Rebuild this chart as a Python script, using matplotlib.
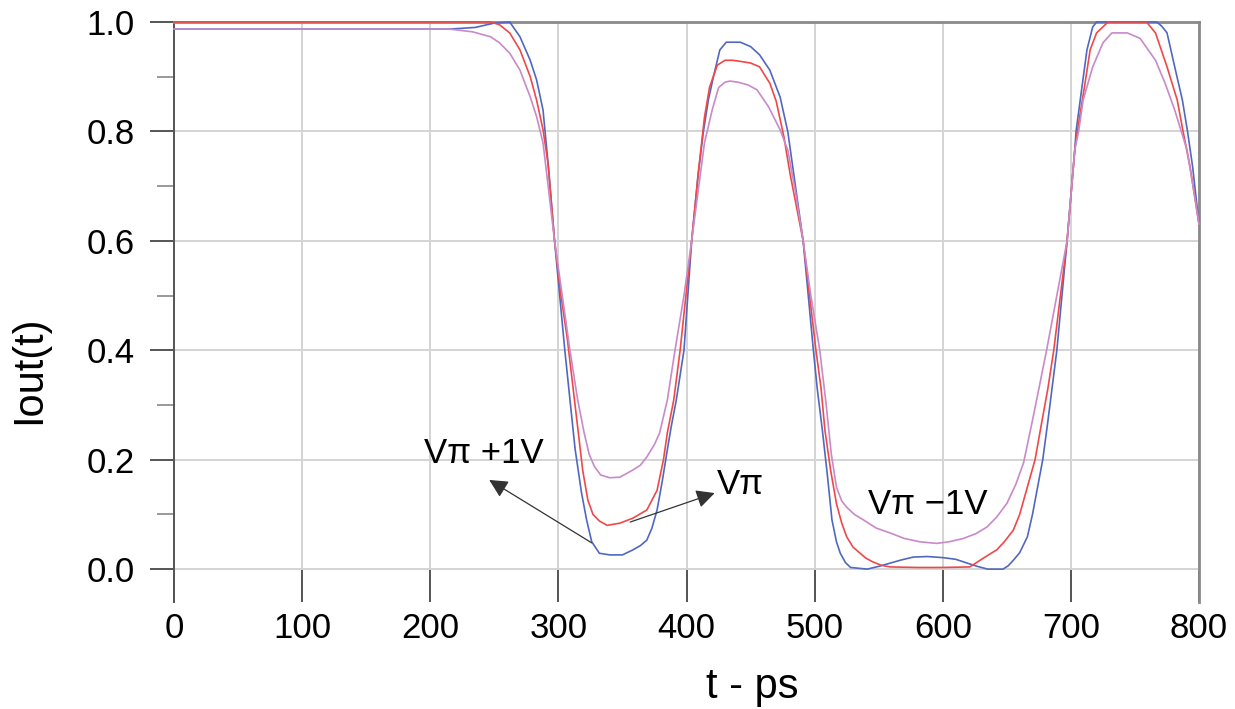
import matplotlib.pyplot as plt
from matplotlib.ticker import MultipleLocator

plt.rcParams['font.family'] = ['Liberation Sans', 'DejaVu Sans']

# ==== Data ====
# Vpi + 1V (blue)
t_blue = [0, 215, 235, 250, 262, 270, 278, 283, 288, 292, 297, 301, 305, 309, 313, 318, 322, 326,
          332, 340, 350, 358, 364, 369, 373, 377, 381, 385, 388, 392, 398, 404, 409, 413, 417, 421,
          426, 431, 436, 442, 450, 457, 465, 473, 479, 485, 491, 495, 499, 502, 506, 510, 513.5, 517,
          520, 524, 528, 541, 550, 559, 568, 577, 588, 600, 610, 619, 627, 635, 647, 651, 655, 660,
          666, 670, 674, 678, 682, 689, 697, 703, 704, 709, 712.5, 717, 720, 767, 771, 775, 781, 787,
          791, 795, 800]
i_blue = [0.987, 0.987, 0.99, 0.998, 1.0, 0.973, 0.93, 0.894, 0.839, 0.74, 0.60, 0.50, 0.40, 0.31,
          0.22, 0.14, 0.09, 0.05, 0.029, 0.026, 0.026, 0.035, 0.043, 0.053, 0.075, 0.108, 0.16,
          0.218, 0.26, 0.309, 0.40, 0.60, 0.72, 0.797, 0.857, 0.90, 0.949, 0.963, 0.963, 0.963, 0.955,
          0.94, 0.912, 0.863, 0.80, 0.70, 0.60, 0.50, 0.40, 0.33, 0.254, 0.17, 0.09, 0.05, 0.029,
          0.012, 0.003, 0.0, 0.005, 0.011, 0.017, 0.022, 0.023, 0.021, 0.018, 0.011, 0.005, 0.0, 0.0,
          0.006, 0.016, 0.03, 0.059, 0.10, 0.15, 0.20, 0.27, 0.40, 0.60, 0.766, 0.80, 0.888, 0.949,
          0.991, 1.0, 1.0, 0.992, 0.98, 0.918, 0.857, 0.80, 0.735, 0.63]

# Vpi (red)
t_red = [0, 247, 254, 262, 270, 278, 283, 288, 292, 297, 302, 307, 311, 315, 319, 323, 327, 332,
         338, 348, 358, 369, 377, 382, 385, 390, 395, 404, 409, 414, 418, 424, 430, 436, 442, 450,
         457, 465, 470, 476, 481, 486, 491, 496, 501, 505, 508, 512.5, 517, 521, 525, 530, 535.5, 540,
         545.6, 552, 559, 580, 600, 621, 629, 635, 642, 648, 655, 660, 666, 672, 677.5, 682, 686.6,
         697, 703, 705, 711, 715, 720, 729, 759, 766, 775, 783, 787.5, 793, 800]
i_red = [1.0, 1.0, 0.995, 0.98, 0.949, 0.90, 0.857, 0.803, 0.74, 0.60, 0.50, 0.42, 0.34, 0.26, 0.18,
         0.126, 0.10, 0.088, 0.080, 0.084, 0.093, 0.108, 0.144, 0.20, 0.249, 0.309, 0.40, 0.60, 0.72,
         0.826, 0.881, 0.921, 0.93, 0.93, 0.928, 0.925, 0.918, 0.888, 0.855, 0.79, 0.72, 0.66, 0.60,
         0.50, 0.40, 0.33, 0.254, 0.18, 0.12, 0.085, 0.059, 0.04, 0.029, 0.02, 0.013, 0.007, 0.004,
         0.003, 0.003, 0.004, 0.016, 0.025, 0.035, 0.05, 0.071, 0.10, 0.15, 0.20, 0.272, 0.33, 0.40,
         0.60, 0.766, 0.80, 0.888, 0.949, 0.98, 1.0, 1.0, 0.98, 0.918, 0.857, 0.80, 0.735, 0.63]

# Vpi - 1V (violet)
t_pink = [0, 215, 233, 247, 254, 262, 270, 278, 283, 288, 292, 297, 303, 309, 315, 320, 324, 328,
          333, 340, 348, 358, 364, 369, 375, 379, 385, 391, 398, 404, 409, 414, 420, 425, 430, 434,
          440, 448, 455, 464, 473, 479, 485, 491, 497, 504, 509, 513, 517, 521, 525, 531, 538, 548,
          559, 570, 582, 595, 605, 616, 626, 634.5, 642, 650, 657, 663, 670, 675, 681, 689, 697, 703,
          706, 709.5, 717, 725, 732, 744, 754, 766, 773.5, 781, 790.6, 797, 800]
i_pink = [0.987, 0.987, 0.982, 0.973, 0.962, 0.943, 0.912, 0.863, 0.827, 0.779, 0.70, 0.60, 0.50,
          0.40, 0.31, 0.25, 0.21, 0.188, 0.172, 0.167, 0.168, 0.181, 0.19, 0.205, 0.228, 0.249,
          0.309, 0.40, 0.50, 0.60, 0.69, 0.779, 0.839, 0.88, 0.89, 0.892, 0.89, 0.885, 0.876, 0.845,
          0.803, 0.766, 0.69, 0.60, 0.50, 0.40, 0.30, 0.21, 0.15, 0.125, 0.113, 0.10, 0.09, 0.075,
          0.066, 0.056, 0.05, 0.047, 0.05, 0.056, 0.065, 0.077, 0.095, 0.12, 0.155, 0.194, 0.272,
          0.33, 0.40, 0.50, 0.60, 0.766, 0.80, 0.857, 0.918, 0.962, 0.98, 0.98, 0.97, 0.93, 0.888,
          0.839, 0.766, 0.675, 0.63]

fig = plt.figure(figsize=(12.35, 7.09), dpi=100)
ax = fig.add_axes([0.1409, 0.151, 0.830, 0.818])

ax.plot(t_blue, i_blue, color='#5068c0', lw=1.2, clip_on=False, zorder=3)
ax.plot(t_red, i_red, color='#f04848', lw=1.2, clip_on=False, zorder=4)
ax.plot(t_pink, i_pink, color='#c88ac8', lw=1.2, clip_on=False, zorder=5)

ax.set_xlim(0, 800)
ax.set_ylim(-0.06, 1.0)
ax.set_xticks(range(0, 801, 100))
ax.set_yticks([0.0, 0.2, 0.4, 0.6, 0.8, 1.0])
ax.yaxis.set_minor_locator(MultipleLocator(0.1))
ax.set_yticklabels(['0.0', '0.2', '0.4', '0.6', '0.8', '1.0'])

ax.grid(True, which='major', color='#d4d4d4', lw=1.4)
ax.set_axisbelow(True)

ax.spines['bottom'].set_visible(False)
ax.spines['left'].set_color('#555555')
ax.spines['left'].set_linewidth(1.4)
for s in ['top', 'right']:
    ax.spines[s].set_color('#8a8a8a')
    ax.spines[s].set_linewidth(2)

ax.tick_params(axis='x', direction='in', length=24, width=1.4, color='#555555',
               labelsize=25, pad=7)
ax.tick_params(axis='y', which='major', direction='out', length=17, width=1.4,
               color='#555555', labelsize=25, pad=11)
ax.tick_params(axis='y', which='minor', direction='out', length=12, width=1.4,
               color='#999999')

ax.set_xlabel('t - ps', fontsize=30)
ax.xaxis.set_label_coords(0.564, -0.112)
ax.set_ylabel('Iout(t)', fontsize=30)
ax.yaxis.set_label_coords(-0.122, 0.40)

# annotations
ax.text(242, 0.212, 'V\u03c0 +1V', fontsize=25, ha='center', va='center')
ax.text(424, 0.155, 'V\u03c0', fontsize=25, ha='left', va='center')
ax.text(588, 0.119, 'V\u03c0 \u22121V', fontsize=25, ha='center', va='center')

arrow = dict(arrowstyle='-|>', color='#333333', lw=0.9, mutation_scale=28, shrinkA=0, shrinkB=0)
ax.annotate('', xy=(246, 0.163), xytext=(326, 0.048), arrowprops=arrow)
ax.annotate('', xy=(422, 0.139), xytext=(356, 0.086), arrowprops=arrow)

plt.savefig('out.png', dpi=100)
plt.close()
